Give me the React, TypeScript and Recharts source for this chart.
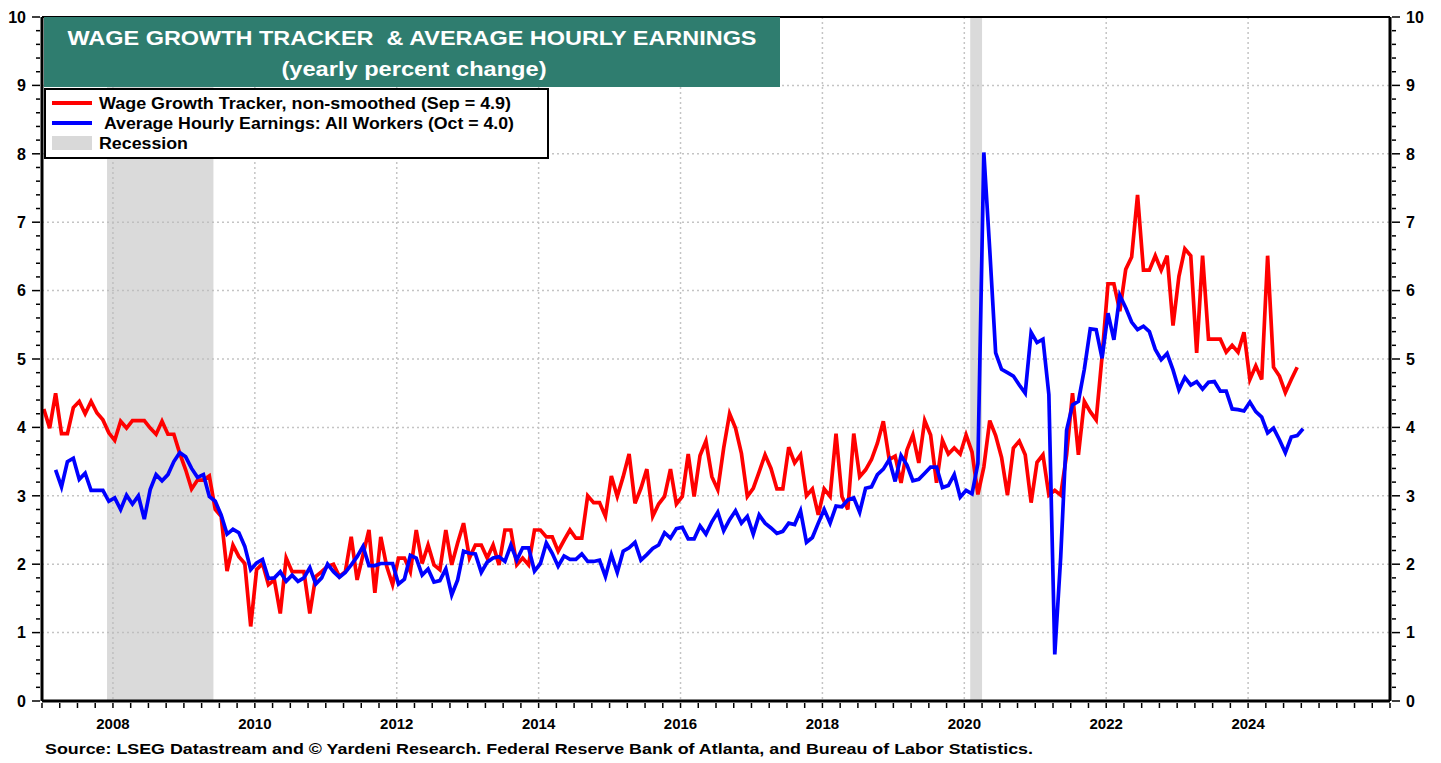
import React from "react";
import {
  LineChart,
  Line,
  XAxis,
  YAxis,
  CartesianGrid,
  ReferenceArea,
  ReferenceLine,
} from "recharts";

// Atlanta Fed Wage Growth Tracker (non-smoothed), monthly from Jan 2007
const wgtStart = 2007;
const wgt = [
  4.27, 3.99, 4.5, 3.91, 3.91, 4.29, 4.38, 4.2, 4.38, 4.21, 4.11, 3.92,
  3.81, 4.09, 3.99, 4.1, 4.1, 4.1, 3.99, 3.9, 4.09, 3.9, 3.9, 3.62,
  3.38, 3.1, 3.23, 3.23, 3.29, 2.8, 2.7, 1.9, 2.28, 2.11, 2.01, 1.09,
  1.92, 2.01, 1.7, 1.77, 1.28, 2.09, 1.89, 1.89, 1.89, 1.28, 1.82, 1.89,
  1.97, 2.0, 1.82, 1.89, 2.4, 1.77, 2.14, 2.5, 1.58, 2.4, 1.97, 1.7,
  2.09, 2.09, 1.89, 2.5, 2.01, 2.28, 1.99, 1.92, 2.5, 1.99, 2.31, 2.6,
  2.09, 2.28, 2.28, 2.09, 2.28, 1.99, 2.5, 2.5, 1.99, 2.09, 1.99, 2.5,
  2.5, 2.4, 2.4, 2.19, 2.35, 2.5, 2.38, 2.38, 3.0, 2.9, 2.9, 2.7,
  3.29, 2.99, 3.28, 3.61, 2.89, 3.11, 3.39, 2.7, 2.88, 2.99, 3.39, 2.88,
  2.99, 3.61, 2.99, 3.59, 3.8, 3.28, 3.09, 3.7, 4.2, 3.99, 3.62, 2.99,
  3.11, 3.35, 3.6, 3.4, 3.1, 3.1, 3.71, 3.48, 3.6, 3.0, 3.1, 2.72,
  3.1, 2.99, 3.91, 2.99, 2.8, 3.91, 3.28, 3.38, 3.53, 3.77, 4.09, 3.53,
  3.58, 3.19, 3.67, 3.89, 3.48, 4.1, 3.89, 3.19, 3.81, 3.61, 3.7, 3.61,
  3.89, 3.64, 3.02, 3.42, 4.1, 3.88, 3.56, 3.01, 3.7, 3.8, 3.6, 2.9,
  3.49, 3.6, 3.01, 3.08, 3.01, 3.6, 4.5, 3.6, 4.38, 4.23, 4.11, 5.04,
  6.1, 6.1, 5.7, 6.31, 6.49, 7.4, 6.3, 6.3, 6.51, 6.3, 6.51, 5.49,
  6.21, 6.61, 6.51, 5.09, 6.51, 5.29, 5.29, 5.29, 5.1, 5.2, 5.1, 5.39,
  4.7, 4.9, 4.7, 6.51, 4.88, 4.75, 4.51, 4.7, 4.88,
];

// Average hourly earnings, all workers, monthly from Mar 2007
const aheStartMonth = 2;
const ahe = [
  3.38, 3.13, 3.5, 3.55, 3.24, 3.33, 3.08, 3.08, 3.08, 2.92,
  2.97, 2.8, 3.01, 2.88, 3.0, 2.66, 3.09, 3.31, 3.22, 3.31, 3.5, 3.63,
  3.57, 3.4, 3.27, 3.31, 2.99, 2.92, 2.72, 2.44, 2.51, 2.46, 2.26, 1.92,
  2.02, 2.07, 1.79, 1.8, 1.89, 1.75, 1.84, 1.75, 1.8, 1.95, 1.71, 1.8,
  2.0, 1.89, 1.81, 1.88, 1.99, 2.11, 2.26, 1.98, 1.98, 2.01, 2.01, 2.01,
  1.71, 1.78, 2.13, 2.09, 1.84, 1.93, 1.74, 1.76, 1.93, 1.55, 1.77, 2.19,
  2.16, 2.15, 1.88, 2.03, 2.09, 2.11, 2.04, 2.28, 2.06, 2.24, 2.24, 1.9,
  2.01, 2.31, 2.16, 1.97, 2.12, 2.07, 2.07, 2.15, 2.04, 2.04, 2.06, 1.82,
  2.14, 1.88, 2.19, 2.24, 2.32, 2.06, 2.14, 2.23, 2.28, 2.46, 2.38, 2.52,
  2.54, 2.37, 2.37, 2.56, 2.44, 2.62, 2.76, 2.49, 2.65, 2.78, 2.6, 2.7,
  2.44, 2.72, 2.6, 2.53, 2.45, 2.48, 2.6, 2.58, 2.78, 2.32, 2.39, 2.6,
  2.8, 2.6, 2.85, 2.84, 2.94, 2.97, 2.76, 3.11, 3.13, 3.31, 3.39, 3.53,
  3.21, 3.59, 3.45, 3.22, 3.24, 3.33, 3.42, 3.42, 3.12, 3.15, 3.31, 2.98,
  3.08, 3.03, 3.47, 8.02, 6.6, 5.09, 4.85, 4.8, 4.75, 4.62, 4.5, 5.39,
  5.24, 5.29, 4.48, 0.68, 2.1, 3.96, 4.33, 4.38, 4.85, 5.44, 5.43, 5.01,
  5.67, 5.28, 5.93, 5.75, 5.54, 5.43, 5.48, 5.4, 5.14, 4.99, 5.08, 4.84,
  4.55, 4.73, 4.62, 4.67, 4.56, 4.66, 4.67, 4.53, 4.53, 4.27, 4.26, 4.24,
  4.37, 4.23, 4.15, 3.92, 3.99, 3.82, 3.63, 3.86, 3.88, 3.98,
];

const recessions = [
  { from: 2007 + 11 / 12, to: 2009 + 5 / 12 },
  { from: 2020 + 1 / 12, to: 2020 + 3 / 12 },
];

const xLabelYears = [2008, 2010, 2012, 2014, 2016, 2018, 2020, 2022, 2024];
const yLabels = [0, 1, 2, 3, 4, 5, 6, 7, 8, 9, 10];

const xTicks: number[] = [];
for (let q = 0; q <= 19 * 4; q++) xTicks.push(2007 + q / 4);
const yTicks: number[] = [];
for (let k = 0; k <= 50; k++) yTicks.push(k / 5);

const monthCount = Math.max(wgt.length, ahe.length + aheStartMonth);
const data = Array.from({ length: monthCount }, (_, i) => ({
  t: wgtStart + (i + 0.3) / 12,
  wgt: i < wgt.length ? wgt[i] : null,
  ahe: i >= aheStartMonth && i - aheStartMonth < ahe.length ? ahe[i - aheStartMonth] : null,
}));

const FONT = "'Liberation Sans', Arial, sans-serif";

const XTick = ({ x, y, payload }: any) => {
  const v = payload.value;
  const year = Math.round(v);
  const whole = Math.abs(v - year) < 1e-6;
  return (
    <g>
      <line x1={x} x2={x} y1={y} y2={y + 5} stroke="#000" strokeWidth={1.5} />
      {whole && xLabelYears.includes(year) && (
        <text x={x} y={y + 26} textAnchor="middle" fontSize={15} fontWeight="bold" fontFamily={FONT} fill="#000">
          {year}
        </text>
      )}
    </g>
  );
};

const YTick = ({ x, y, payload, side }: any) => {
  const v = payload.value;
  const n = Math.round(v);
  const major = Math.abs(v - n) < 1e-6 && yLabels.includes(n);
  const len = major ? 8 : 4;
  const dir = side === "left" ? -1 : 1;
  return (
    <g>
      <line x1={x} x2={x + dir * len} y1={y} y2={y} stroke="#000" strokeWidth={1.5} />
      {major && (
        <text
          x={x + dir * 14}
          y={y}
          dy="0.36em"
          textAnchor={side === "left" ? "end" : "start"}
          fontSize={16}
          fontWeight="bold"
          fontFamily={FONT}
          fill="#000"
        >
          {n}
        </text>
      )}
    </g>
  );
};

export default function App() {
  return (
    <div style={{ position: "absolute", left: 0, top: 0, width: 1441, height: 763, background: "#fff", fontFamily: FONT }}>
      <LineChart width={1441} height={763} data={data} margin={{ top: 17, right: 0, bottom: 0, left: 0 }}>
        <CartesianGrid
          horizontalValues={[1, 2, 3, 4, 5, 6, 7, 8, 9]}
          verticalValues={[2008, 2010, 2012, 2014, 2016, 2018, 2020, 2022, 2024]}
          stroke="#c4c4c4"
          strokeDasharray="2 3"
          strokeWidth={1.5}
        />
        {recessions.map((r) => (
          <ReferenceArea key={r.from} x1={r.from} x2={r.to} fill="#bcbcbc" fillOpacity={0.55} stroke="none" />
        ))}
        <XAxis
          dataKey="t"
          type="number"
          domain={[2007, 2026]}
          ticks={xTicks}
          interval={0}
          allowDataOverflow
          height={62}
          tickSize={0}
          tickLine={false}
          axisLine={{ stroke: "#000", strokeWidth: 3 }}
          tick={(p: any) => <XTick {...p} />}
        />
        <YAxis
          domain={[0, 10]}
          ticks={yTicks}
          interval={0}
          allowDataOverflow
          width={42}
          tickSize={0}
          tickLine={false}
          axisLine={{ stroke: "#000", strokeWidth: 3 }}
          tick={(p: any) => <YTick {...p} side="left" />}
        />
        <YAxis
          yAxisId="right"
          orientation="right"
          domain={[0, 10]}
          ticks={yTicks}
          interval={0}
          allowDataOverflow
          width={51}
          tickSize={0}
          tickLine={false}
          axisLine={{ stroke: "#000", strokeWidth: 3 }}
          tick={(p: any) => <YTick {...p} side="right" />}
        />
        <ReferenceLine y={10} stroke="#000" strokeWidth={2} />
        <Line
          type="linear"
          dataKey="wgt"
          stroke="#ff0000"
          strokeWidth={3.7}
          dot={false}
          connectNulls={false}
          isAnimationActive={false}
        />
        <Line
          type="linear"
          dataKey="ahe"
          yAxisId="right"
          stroke="#0000ff"
          strokeWidth={3.7}
          dot={false}
          connectNulls={false}
          isAnimationActive={false}
        />
      </LineChart>

      <svg width={1441} height={763} style={{ position: "absolute", left: 0, top: 0, pointerEvents: "none" }}>
        <rect x={44} y={17} width={736} height={70} fill="#2f7d6f" />
        <text x={412} y={45} textAnchor="middle" fontSize={20} fontWeight="bold" fill="#fff" fontFamily={FONT} textLength={689} lengthAdjust="spacingAndGlyphs" style={{ whiteSpace: "pre" }}>
          {"WAGE GROWTH TRACKER  & AVERAGE HOURLY EARNINGS"}
        </text>
        <text x={414} y={76} textAnchor="middle" fontSize={20} fontWeight="bold" fill="#fff" fontFamily={FONT} textLength={265} lengthAdjust="spacingAndGlyphs">
          (yearly percent change)
        </text>

        <rect x={45} y={89} width={503} height={69} fill="#fff" stroke="#000" strokeWidth={2} />
        <line x1={52} x2={92} y1={103} y2={103} stroke="#ff0000" strokeWidth={4} />
        <line x1={52} x2={92} y1={123} y2={123} stroke="#0000ff" strokeWidth={4} />
        <rect x={52} y={136} width={40} height={14} fill="#d9d9d9" />
        <text x={99} y={109} fontSize={16} fontWeight="bold" fill="#000" fontFamily={FONT} textLength={412} lengthAdjust="spacingAndGlyphs">
          Wage Growth Tracker, non-smoothed (Sep = 4.9)
        </text>
        <text x={104} y={129} fontSize={16} fontWeight="bold" fill="#000" fontFamily={FONT} textLength={410} lengthAdjust="spacingAndGlyphs">
          Average Hourly Earnings: All Workers (Oct = 4.0)
        </text>
        <text x={99} y={149} fontSize={16} fontWeight="bold" fill="#000" fontFamily={FONT} textLength={89} lengthAdjust="spacingAndGlyphs">
          Recession
        </text>

        <text x={45} y={754} fontSize={15} fontWeight="bold" fill="#000" fontFamily={FONT} textLength={988} lengthAdjust="spacingAndGlyphs">
          Source: LSEG Datastream and © Yardeni Research. Federal Reserve Bank of Atlanta, and Bureau of Labor Statistics.
        </text>
      </svg>
    </div>
  );
}
